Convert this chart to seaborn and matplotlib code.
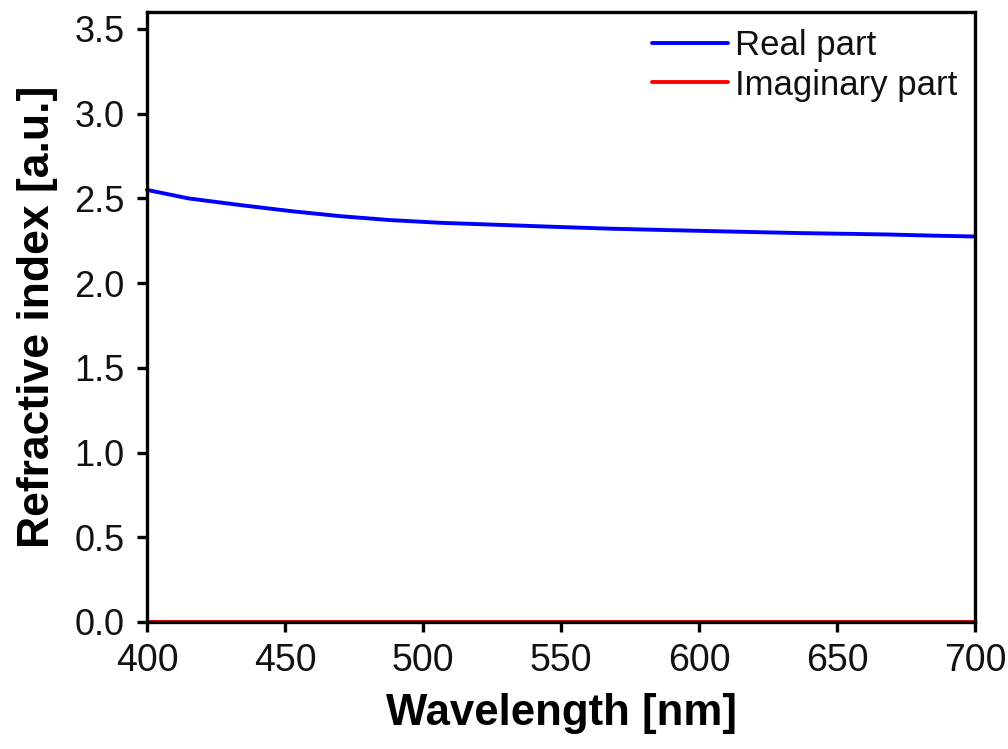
import pandas as pd
import matplotlib
matplotlib.use("Agg")
import matplotlib.pyplot as plt
import seaborn as sns

# values
wavelength = [400, 415, 434, 452, 470, 488, 506, 527, 546, 568, 588, 609, 637, 668, 685, 700]
real_part = [2.55, 2.50, 2.46, 2.425, 2.395, 2.372, 2.356, 2.344, 2.333, 2.321, 2.313, 2.305, 2.295, 2.287, 2.280, 2.275]
imag_part = [0.0] * len(wavelength)

series_names = ["Real part", "Imaginary part"]
series_colors = {"Real part": "#0000FF", "Imaginary part": "#FF0000"}

df = pd.concat([
    pd.DataFrame({"Wavelength": wavelength, "n": real_part, "Part": series_names[0]}),
    pd.DataFrame({"Wavelength": wavelength, "n": imag_part, "Part": series_names[1]}),
])

sns.set_style("ticks")
plt.rcParams['font.family'] = ['Liberation Sans', 'DejaVu Sans']
plt.rcParams['text.color'] = '#111111'

fig = plt.figure(figsize=(10.08, 7.49), dpi=100)
ax = fig.add_axes([0.1458, 0.1696, 0.8215, 0.8144])

sns.lineplot(data=df, x="Wavelength", y="n", hue="Part", hue_order=series_names,
             palette=series_colors, linewidth=2.8, ax=ax, clip_on=False)

ax.set_xlim(400, 700)
ax.set_ylim(0, 3.6)
ax.set_xticks([400, 450, 500, 550, 600, 650, 700])
ax.set_yticks([0.0, 0.5, 1.0, 1.5, 2.0, 2.5, 3.0, 3.5])
ax.set_yticklabels([f"{v:.1f}" for v in ax.get_yticks()])

for side in ax.spines.values():
    side.set_linewidth(2.4)
    side.set_color("black")
ax.tick_params(axis="both", direction="out", length=7, width=2.4, colors="black",
               labelcolor="#111111")
ax.tick_params(axis="x", labelsize=27, pad=8)
ax.tick_params(axis="y", labelsize=26, pad=9)

ax.set_xlabel("Wavelength [nm]", fontsize=31.5, fontweight="bold", labelpad=10, color="black")
ax.set_ylabel("Refractive index [a.u.]", fontsize=32, fontweight="bold", labelpad=12, color="black")

leg = ax.legend(loc="upper right", frameon=False, fontsize=25, handlelength=2.2,
                handletextpad=0.2, labelspacing=0.18, borderaxespad=0.1)
for line in leg.get_lines():
    line.set_linewidth(2.8)

fig.savefig("out.png", dpi=100)
